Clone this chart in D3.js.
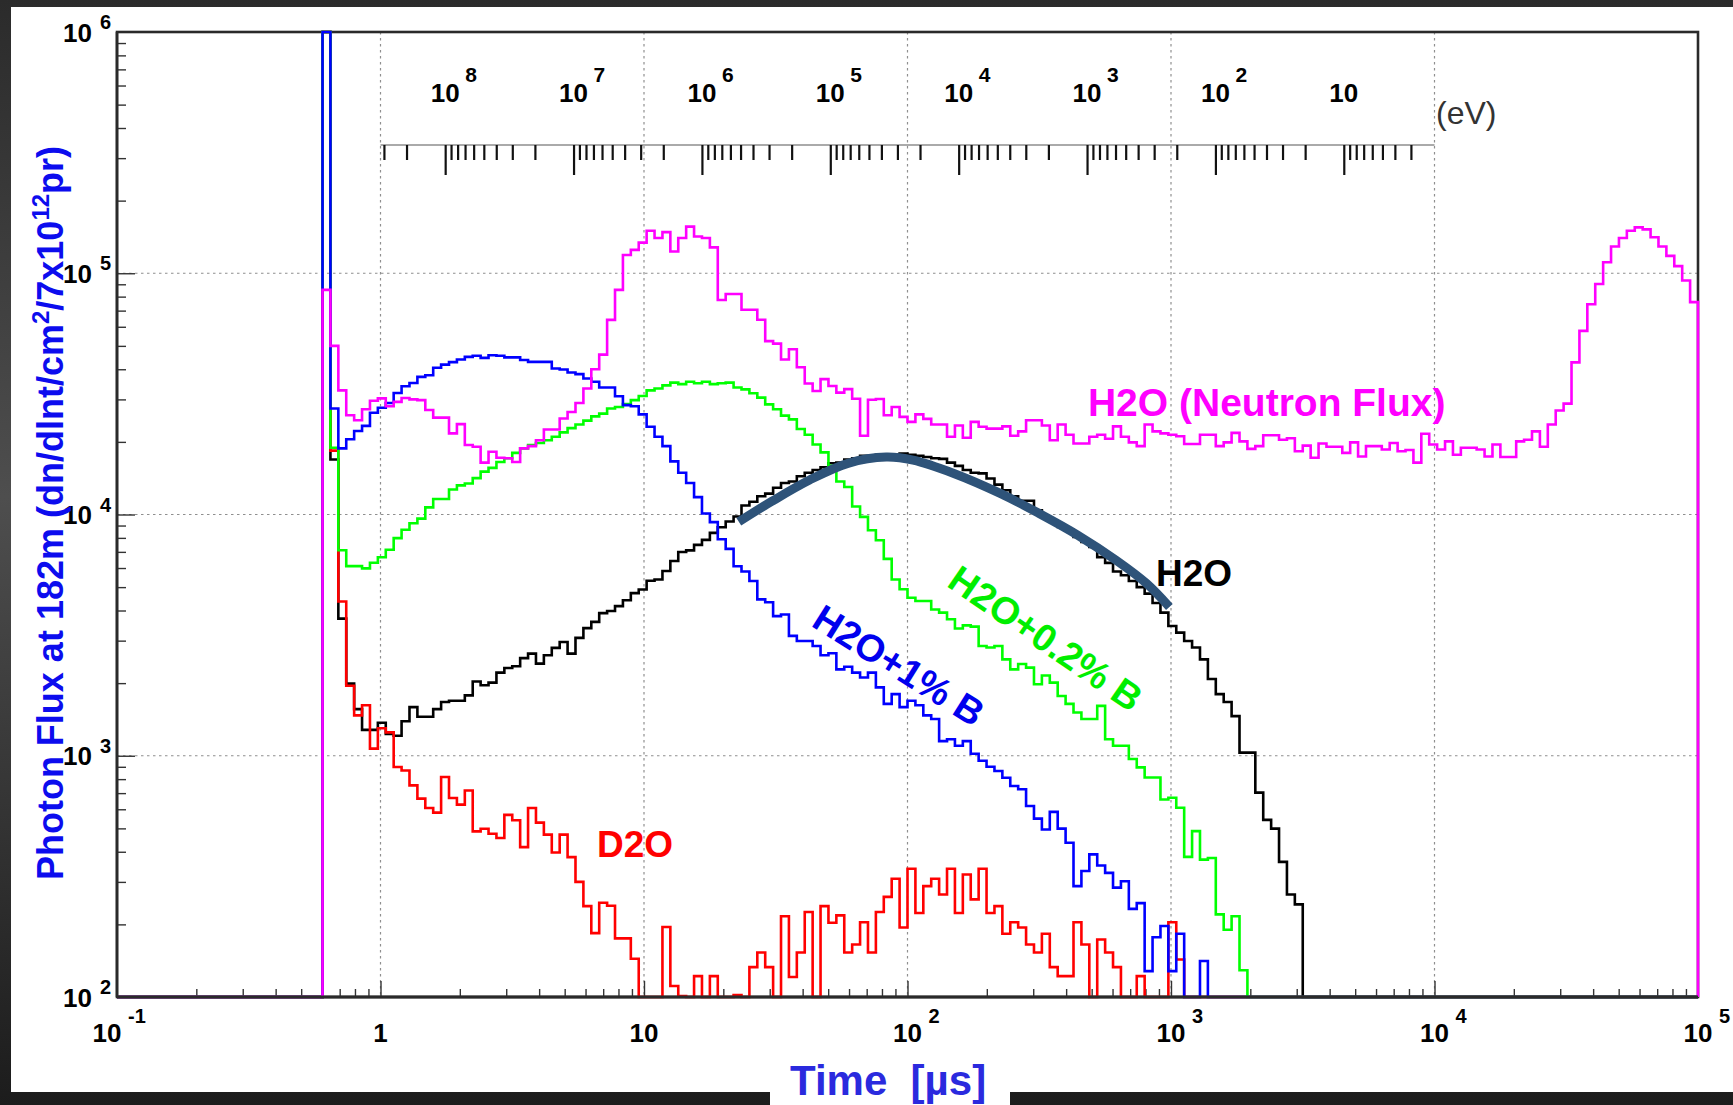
<!DOCTYPE html>
<html>
<head>
<meta charset="utf-8">
<title>Photon flux at 182 m</title>
<script src="https://cdn.jsdelivr.net/npm/d3@7/dist/d3.min.js"></script>
<style>
  html, body { margin:0; padding:0; }
  body { width:1733px; height:1105px; overflow:hidden;
         background: linear-gradient(to bottom, #2b2b2b 0%, #4e4e4e 45%, #1c1c1c 100%); }
  svg { display:block; }
  text { font-family: "Liberation Sans", Arial, Helvetica, sans-serif; }
</style>
</head>
<body>
<svg id="chart" width="1733" height="1105"></svg>
<script>
// ================= DATA =================
// 200 logarithmic time bins from 0.1 us to 1e5 us; series start at bin 26
const N_BINS = 200;
const T_MIN = 0.1, T_MAX = 1e5;
const FIRST_BIN = 26;

// H2O (Neutron Flux) - magenta
const h2oNeutronFlux = [
  85300, 50000, 32700, 25800, 24600, 27300, 29600, 30300, 28100, 29300,
  30400, 30000, 29800, 27100, 25200, 25200, 21700, 23700, 19400, 19100,
  16400, 18200, 17200, 17100, 16500, 18800, 19200, 20300, 22500, 22500,
  25000, 26600, 29000, 33300, 40000, 46000, 64100, 85300, 119000, 125000,
  134000, 150000, 140000, 148000, 123000, 140000, 156000, 142000, 140000, 128000,
  77500, 82000, 82000, 70600, 70600, 64200, 52300, 51100, 43900, 48400,
  40800, 34900, 32500, 36400, 34100, 32000, 33100, 30200, 21200, 29900,
  30100, 25800, 27900, 25400, 24200, 26000, 24900, 23600, 23600, 21000,
  23400, 20800, 24200, 23100, 22700, 22700, 23200, 21200, 22100, 24600,
  24600, 23400, 20300, 23600, 21400, 19700, 19700, 21000, 21400, 20600,
  23200, 21000, 19900, 19200, 23600, 22100, 21700, 21400, 21100, 19600,
  19600, 21400, 21400, 19200, 19900, 21800, 20100, 18700, 19200, 21300,
  21300, 20400, 20700, 18300, 19300, 17200, 19700, 19100, 19100, 18000,
  19900, 17400, 19200, 19200, 18600, 19800, 18300, 18500, 16400, 21600,
  19500, 18600, 20100, 17700, 18900, 18900, 18600, 17400, 19500, 17300,
  17300, 20100, 20400, 22100, 19100, 23600, 27000, 28800, 42700, 57700,
  74400, 90300, 111000, 129000, 140000, 150000, 155000, 152000, 141000, 129000,
  118000, 107000, 93300, 75900
];

// H2O + 1% B - blue
const h2o1pctB = [
  1.2e6, 27500, 18800, 20500, 22200, 23300, 26400, 27700, 29000, 31900,
  34000, 35100, 37200, 37800, 40600, 41800, 42800, 43900, 45000, 45500,
  44600, 45700, 45500, 44800, 44800, 43700, 42900, 42900, 42900, 40300,
  39900, 38800, 38200, 36600, 35500, 33600, 33600, 30900, 28400, 28100,
  26000, 23100, 21000, 19200, 16600, 14900, 13500, 11800, 10100, 9300,
  7900, 7200, 6100, 5800, 5300, 4450, 4330, 3790, 3850, 3140,
  2990, 2990, 2850, 2610, 2660, 2280, 2340, 2210, 2110, 2210,
  1920, 1640, 1800, 1590, 1690, 1620, 1470, 1420, 1150, 1170,
  1100, 1150, 1020, 953, 900, 865, 811, 749, 726, 619,
  549, 495, 585, 499, 436, 288, 333, 390, 351, 327,
  284, 302, 232, 245, 128, 177, 197, 128, 183, 0,
  0, 141
];

// H2O + 0.2% B - green
const h2o02pctB = [
  1.2e6, 18900, 7110, 6110, 6110, 5980, 6310, 6650, 7140, 7980,
  8640, 9200, 9610, 10700, 11600, 11600, 12700, 13200, 13450, 14150,
  15050, 15600, 16500, 17100, 18000, 18800, 19400, 19800, 20300, 21000,
  21900, 22800, 23600, 24500, 25500, 26200, 27500, 27900, 28700, 29800,
  31000, 32700, 33300, 34300, 35200, 34700, 35500, 35000, 35500, 34700,
  35000, 35200, 33600, 33000, 31800, 30500, 28600, 27300, 25700, 24800,
  22600, 21400, 19500, 18100, 15900, 13700, 13000, 10800, 9780, 8600,
  7820, 6550, 5380, 4900, 4520, 4380, 4380, 4040, 3920, 3680,
  3370, 3470, 3430, 2850, 2810, 2850, 2510, 2280, 2400, 2320,
  1980, 2150, 2010, 1770, 1640, 1510, 1420, 1420, 1610, 1170,
  1100, 1100, 969, 895, 812, 812, 659, 670, 609, 381,
  487, 371, 377, 220, 190, 216, 129
];

// H2O - black
const h2o = [
  1.2e6, 16900, 3700, 1990, 1560, 1280, 1280, 1370, 1230, 1210,
  1390, 1590, 1450, 1450, 1560, 1670, 1690, 1690, 1780, 2030,
  1960, 2010, 2210, 2310, 2350, 2540, 2650, 2410, 2610, 2800,
  2960, 2650, 3080, 3380, 3590, 3900, 3980, 4170, 4410, 4720,
  4890, 5310, 5380, 5830, 6420, 6990, 7100, 7480, 7850, 8390,
  8850, 9350, 9810, 10900, 11300, 11900, 12200, 12900, 13500, 13700,
  14400, 14900, 15300, 15700, 16300, 16400, 16900, 17100, 17500, 17500,
  17700, 17700, 17700, 17900, 17700, 17500, 17300, 17100, 17000, 16400,
  15900, 15300, 14900, 14800, 14100, 13300, 12600, 11900, 11400, 11400,
  10400, 9780, 9410, 8880, 8650, 8070, 7690, 7330, 6660, 6300,
  5800, 5600, 5300, 5000, 4700, 4300, 3920, 3450, 3240, 2990,
  2810, 2510, 2080, 1800, 1670, 1460, 1030, 1030, 703, 542,
  499, 363, 266, 242
];

// D2O - red
const d2o = [
  1.2e6, 18400, 4360, 1950, 1470, 1620, 1070, 1300, 1250, 898,
  869, 754, 664, 607, 581, 816, 668, 627, 718, 486,
  498, 475, 456, 569, 540, 418, 607, 528, 471, 397,
  471, 380, 300, 238, 184, 246, 239, 175, 175, 144,
  0, 0, 0, 195, 111, 101, 0, 122, 0, 122,
  0, 0, 102, 0, 133, 153, 133, 0, 216, 121,
  153, 225, 0, 238, 203, 218, 153, 165, 204, 153,
  225, 260, 309, 194, 340, 223, 288, 309, 266, 340,
  223, 322, 254, 340, 223, 238, 183, 204, 194, 165,
  153, 183, 133, 122, 122, 204, 165, 0, 173, 153,
  133, 0, 0, 122, 0, 0, 0, 204, 143
];

// smooth fit drawn over the H2O histogram
const fitTime = [22.9, 30.4, 42.5, 59.4, 83.0, 105, 150, 226, 316, 442, 618, 807, 986];
const fitFlux = [9330, 11300, 13900, 16300, 17300, 16800, 14800, 12200, 10100, 8220, 6470, 5180, 4140];

// axis ticks
const timeTicks = [0.1, 1, 10, 100, 1000, 10000, 100000];
const fluxTicks = [1e2, 1e3, 1e4, 1e5, 1e6];
const energyTicks = [1e8, 1e7, 1e6, 1e5, 1e4, 1e3, 1e2, 10];
const energyAtEnds = [3.19e8, 1.965];   // neutron energy (eV) at t = 1 us and t = 1e4 us

// ================= DRAWING =================
const svg = d3.select("#chart");
const W = 1733;
const P = {l: 117, r: 1698, t: 32, b: 997};

// white panel
svg.append("rect").attr("x", 11).attr("y", 7).attr("width", W - 11).attr("height", 1085).attr("fill", "#fff");
svg.append("rect").attr("x", 770).attr("y", 1085).attr("width", 240).attr("height", 20).attr("fill", "#fff");

const x = d3.scaleLog().domain([T_MIN, T_MAX]).range([P.l, P.r]);
const y = d3.scaleLog().domain([1e2, 1e6]).range([P.b, P.t]).clamp(true);
const e = d3.scaleLog().domain(energyAtEnds).range([x(1), x(1e4)]);

function minorsLog(lo, hi) {
  const out = [];
  for (let d = Math.floor(Math.log10(lo)) - 1; d <= Math.ceil(Math.log10(hi)); d++)
    for (let k = 2; k <= 9; k++) {
      const v = k * Math.pow(10, d);
      if (v > lo * 1.0001 && v < hi * 0.9999) out.push(v);
    }
  return out;
}

// grid
const grid = svg.append("g").attr("stroke", "#8f8f8f").attr("stroke-width", 1.2).attr("stroke-dasharray", "2.5,3.5");
timeTicks.slice(1, -1).forEach(t => grid.append("line").attr("x1", x(t)).attr("x2", x(t)).attr("y1", P.t).attr("y2", P.b));
fluxTicks.slice(1, -1).forEach(v => grid.append("line").attr("x1", P.l).attr("x2", P.r).attr("y1", y(v)).attr("y2", y(v)));

// frame (under histograms)
svg.append("rect").attr("x", P.l).attr("y", P.t).attr("width", P.r - P.l).attr("height", P.b - P.t)
  .attr("fill", "none").attr("stroke", "#2a2a2a").attr("stroke-width", 2.6);

function tickAxis(axisFn, scale, values, size, tx, ty, color, width) {
  svg.append("g").attr("transform", `translate(${tx},${ty})`)
    .call(axisFn(scale).tickValues(values).tickSize(size).tickSizeOuter(0).tickFormat(""))
    .call(g => g.select(".domain").remove())
    .call(g => g.selectAll(".tick line").attr("stroke", color).attr("stroke-width", width));
}

// main axes ticks
tickAxis(d3.axisBottom, x, minorsLog(T_MIN, T_MAX), -8, 0, P.b, "#333", 1.4);
tickAxis(d3.axisBottom, x, timeTicks.slice(1, -1), -16, 0, P.b, "#333", 1.4);
tickAxis(d3.axisLeft, y, minorsLog(1e2, 1e6), -9, P.l, 0, "#333", 1.4);
tickAxis(d3.axisLeft, y, fluxTicks.slice(1, -1), -18, P.l, 0, "#333", 1.4);

// energy axis
const EY = 145;
svg.append("line").attr("x1", x(1)).attr("x2", x(1e4)).attr("y1", EY).attr("y2", EY)
  .attr("stroke", "#aaa").attr("stroke-width", 2);
tickAxis(d3.axisBottom, e, minorsLog(energyAtEnds[1], energyAtEnds[0]).filter(v => e(v) < x(1e4) - 3), 15, 0, EY, "#111", 2.2);
tickAxis(d3.axisBottom, e, energyTicks, 30, 0, EY, "#111", 2.2);

// histograms
svg.append("clipPath").attr("id", "plotClip").append("rect")
  .attr("x", P.l - 2).attr("y", P.t - 2).attr("width", P.r - P.l + 4).attr("height", P.b - P.t + 4);
const edge = i => T_MIN * Math.pow(T_MAX / T_MIN, i / N_BINS);
function histPoints(arr) {
  const b = new Array(N_BINS).fill(0);
  arr.forEach((v, i) => { b[FIRST_BIN + i] = v; });
  const pts = b.map((v, i) => [edge(i), v]);
  pts.push([edge(N_BINS), b[N_BINS - 1]]);
  pts.push([edge(N_BINS), 0]);
  return pts;
}
const stepLine = d3.line().x(d => x(d[0])).y(d => y(Math.max(d[1], 1e2))).curve(d3.curveStepAfter);
const hg = svg.append("g").attr("clip-path", "url(#plotClip)").attr("fill", "none")
  .attr("stroke-width", 2.6).attr("stroke-linejoin", "miter");
[[h2o, "#000000"], [d2o, "#ff0000"], [h2o02pctB, "#00ff00"], [h2o1pctB, "#0000ff"], [h2oNeutronFlux, "#ff00ff"]]
  .forEach(([arr, col]) => hg.append("path").attr("d", stepLine(histPoints(arr))).attr("stroke", col));

// bottom & left axis lines on top (hide empty bins)
svg.append("line").attr("x1", P.l).attr("x2", P.r).attr("y1", P.b).attr("y2", P.b)
  .attr("stroke", "#2a2a2a").attr("stroke-width", 3);
svg.append("line").attr("x1", P.l).attr("x2", P.l).attr("y1", P.t).attr("y2", P.b)
  .attr("stroke", "#2a2a2a").attr("stroke-width", 2.6);

// fit curve
const fitLine = d3.line().x(d => x(d[0])).y(d => y(d[1])).curve(d3.curveCatmullRom);
svg.append("path").attr("d", fitLine(fitTime.map((t, i) => [t, fitFlux[i]])))
  .attr("fill", "none").attr("stroke", "#2e5379").attr("stroke-width", 9);

// ---- tick labels ----
const lab = svg.append("g").attr("font-weight", "bold").attr("fill", "#000");
function exp10(v) { return Math.round(Math.log10(v)); }

fluxTicks.forEach(v => {
  const yy = y(v);
  lab.append("text").attr("x", 92).attr("y", yy + 9.5).attr("text-anchor", "end").attr("font-size", 26).text("10");
  lab.append("text").attr("x", 100).attr("y", yy - 3).attr("font-size", 20).text(exp10(v));
});

timeTicks.forEach(t => {
  const p = exp10(t);
  if (p === 0 || p === 1) {
    lab.append("text").attr("x", x(t)).attr("y", 1042).attr("text-anchor", "middle").attr("font-size", 26).text(p === 0 ? "1" : "10");
  } else {
    const cx = x(t) + (p < 0 ? -10 : 0);
    lab.append("text").attr("x", cx).attr("y", 1042).attr("text-anchor", "middle").attr("font-size", 26).text("10");
    lab.append("text").attr("x", cx + 21).attr("y", 1023).attr("font-size", 20).text(p);
  }
});

energyTicks.forEach(E => {
  const p = exp10(E), cx = e(E);
  lab.append("text").attr("x", cx).attr("y", 102).attr("text-anchor", "middle").attr("font-size", 26).text("10");
  if (p !== 1) lab.append("text").attr("x", cx + 20).attr("y", 82).attr("font-size", 21).text(p);
});
svg.append("text").attr("x", 1436).attr("y", 124).attr("font-size", 32).attr("fill", "#333").text("(eV)");

// ---- axis titles ----
const yt = svg.append("text").attr("transform", "translate(63,513) rotate(-90)")
  .attr("text-anchor", "middle").attr("font-size", 36).attr("font-weight", "bold").attr("fill", "#0c0cee");
yt.append("tspan").text("Photon Flux at 182m (dn/dlnt/cm");
yt.append("tspan").attr("font-size", 24).attr("dy", -14).text("2");
yt.append("tspan").attr("dy", 14).text("/7x10");
yt.append("tspan").attr("font-size", 24).attr("dy", -14).text("12");
yt.append("tspan").attr("dy", 14).text("pr)");

svg.append("text").attr("x", 790).attr("y", 1095).attr("font-size", 42).attr("font-weight", "bold")
  .attr("fill", "#2a2ade").style("white-space", "pre").text("Time  [\u00b5s]");

// ---- series labels (anchored in data coordinates) ----
const sl = svg.append("g").attr("font-weight", "bold").attr("font-size", 37);
sl.append("text").attr("x", x(484)).attr("y", y(25600)).attr("fill", "#ff00ff").attr("font-size", 39).text("H2O (Neutron Flux)");
sl.append("text").attr("x", x(877)).attr("y", y(5050)).attr("fill", "#000").text("H2O");
sl.append("text").attr("x", x(6.63)).attr("y", y(380)).attr("fill", "#ff0000").text("D2O");
sl.append("text").attr("transform", `translate(${x(92.9)},${y(2377)}) rotate(32)`).attr("text-anchor", "middle")
  .attr("dy", "0.36em").attr("font-size", 38).attr("fill", "#0000ee").text("H2O+1% B");
sl.append("text").attr("transform", `translate(${x(335.6)},${y(3076)}) rotate(34.5)`).attr("text-anchor", "middle")
  .attr("dy", "0.36em").attr("font-size", 38).attr("fill", "#00ee00").text("H2O+0.2% B");
</script>
</body>
</html>
